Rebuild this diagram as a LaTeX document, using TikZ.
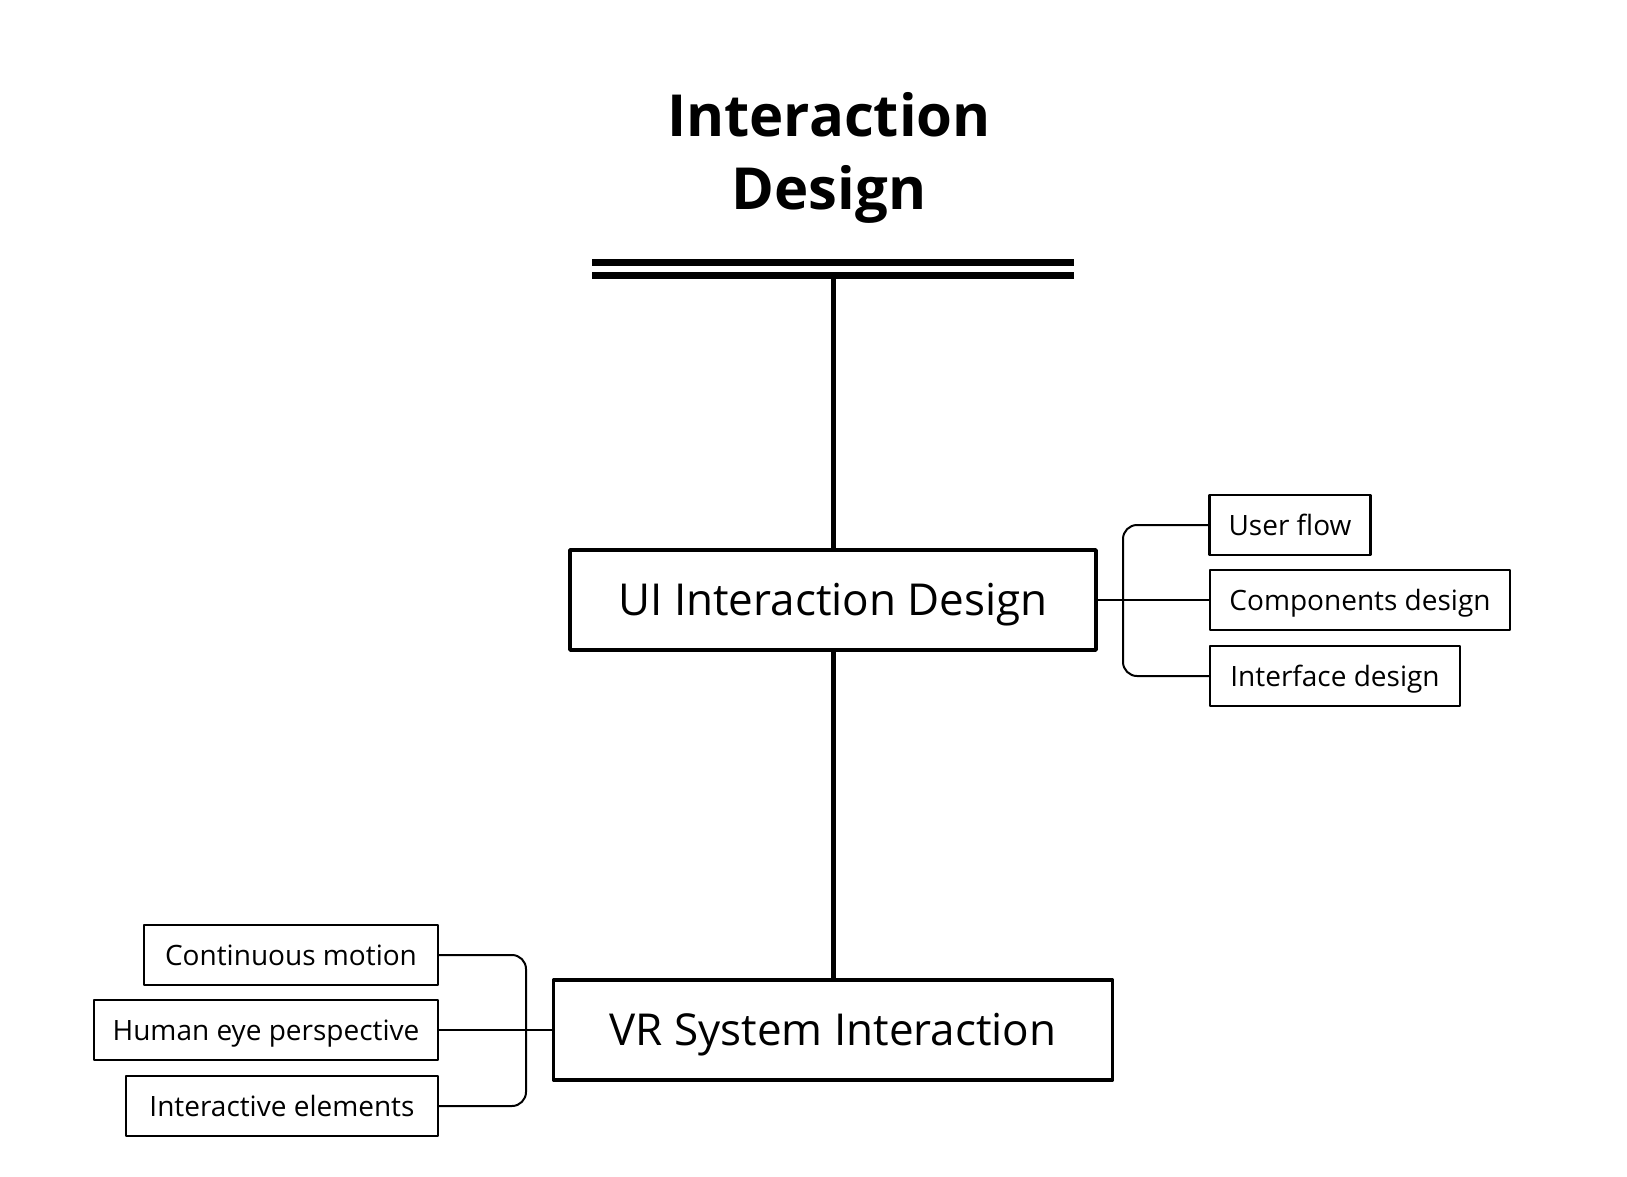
\documentclass[tikz,border=0pt]{standalone}
\usepackage{fontspec}
\setmainfont{Open Sans}
\usetikzlibrary{calc}
\begin{document}
\begin{tikzpicture}[x=1pt,y=-1pt,line cap=round,line join=round,
  mainbox/.style={draw,line width=3.6pt,minimum height=100pt,inner sep=0pt,text height=31pt,text depth=0pt,font=\fontsize{44}{50}\selectfont},
  leafbox/.style={draw,line width=2.4pt,minimum height=60pt,inner sep=0pt,text height=20pt,text depth=0pt,font=\fontsize{28}{32}\selectfont},
  link/.style={line width=2pt,rounded corners=14pt},
  trunk/.style={line width=5pt},
  bar/.style={line width=7pt,line cap=butt}]
  \useasboundingbox (0,0) rectangle (1627,1176);
  % title and double bar
  \node[font=\fontsize{58}{73}\selectfont\bfseries,align=center] (title) at (829,158) {Interaction\\Design};
  \coordinate (barL) at (592,262);
  \coordinate (barR) at (1074,262);
  \draw[bar] (barL) -- (barR);
  \draw[bar] ($(barL)+(0,13)$) -- ($(barR)+(0,13)$);
  \coordinate (hub) at (833,279);
  % main boxes
  \node[mainbox,minimum width=526pt] (ui) at (833,600) {UI Interaction Design};
  \node[mainbox,minimum width=559pt] (vr) at (833,1030) {VR System Interaction};
  \draw[trunk] (hub) -- (ui.north);
  \draw[trunk] (ui.south) -- (vr.north);
  % right branch
  \node[leafbox,minimum width=161pt] (uf) at (1290,525) {User flow};
  \node[leafbox,minimum width=300pt] (cd) at (1360,600) {Components design};
  \node[leafbox,minimum width=250pt] (ifd) at (1335,676) {Interface design};
  \coordinate (rb) at (1123,600);
  \draw[link] (ui.east) -- (cd.west);
  \draw[link] (uf.west) -- (uf.west -| rb) -- (ifd.west -| rb) -- (ifd.west);
  % left branch
  \node[leafbox,minimum width=294pt] (cm) at (291,955) {Continuous motion};
  \node[leafbox,minimum width=344pt] (he) at (266,1030) {Human eye perspective};
  \node[leafbox,minimum width=312pt] (ie) at (282,1106) {Interactive elements};
  \coordinate (lb) at (526,1030);
  \draw[link] (he.east) -- (vr.west);
  \draw[link] (cm.east) -- (cm.east -| lb) -- (ie.east -| lb) -- (ie.east);
\end{tikzpicture}
\end{document}
